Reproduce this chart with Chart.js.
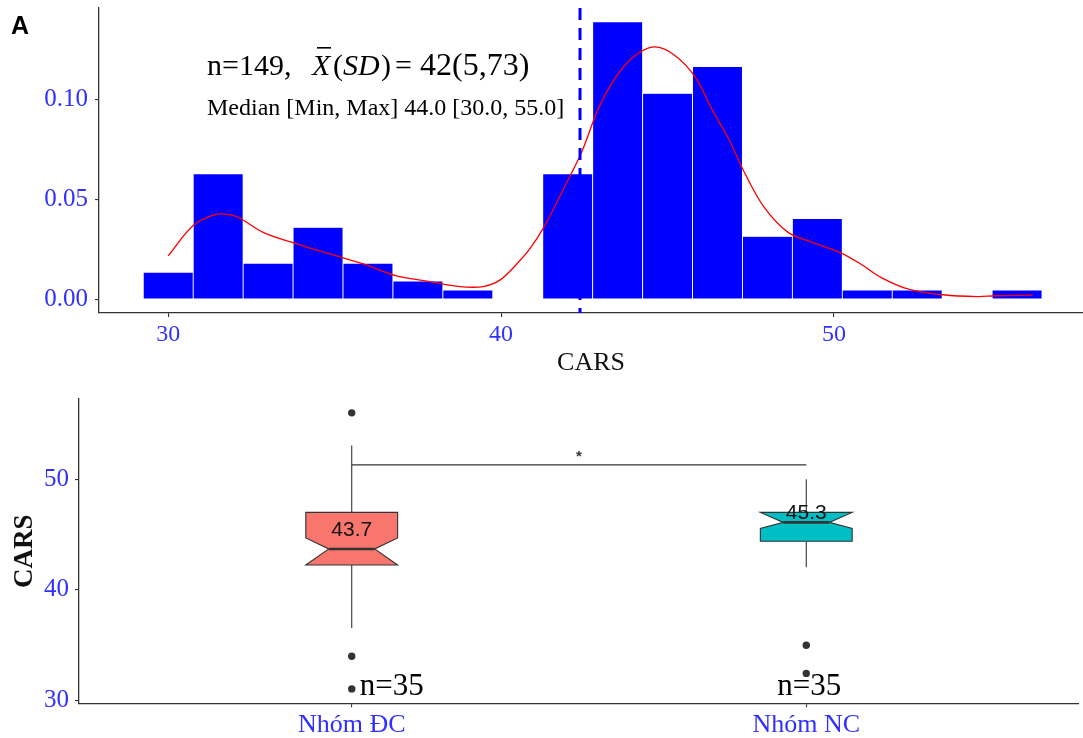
<!DOCTYPE html>
<html lang="en">
<head>
  <meta charset="UTF-8">
  <title>CARS histogram and boxplot</title>
  <script src="https://cdn.jsdelivr.net/npm/chart.js"></script>
  <style>
    body { margin: 0; background: #fff; }
    #wrap { position: relative; width: 1083px; height: 738px; }
    #histChart { position: absolute; left: 0; top: 0; }
    #boxChart { position: absolute; left: 0; top: 390px; }
  </style>
</head>
<body>
<div id="wrap">
  <canvas id="histChart" width="1083" height="390"></canvas>
  <canvas id="boxChart" width="1083" height="348"></canvas>
</div>

<script>
  // ---- panel A: histogram of CARS (bin width 1.5) + density curve ----
  const binCenters = [30, 31.5, 33, 34.5, 36, 37.5, 39, 40.5, 42, 43.5, 45, 46.5, 48, 49.5, 51, 52.5, 54, 55.5];
  const binDensity = [0.0134, 0.0626, 0.0179, 0.0358, 0.0179, 0.0089, 0.0045, 0, 0.0626, 0.1387,
                      0.1029, 0.1163, 0.0313, 0.0403, 0.0045, 0.0045, 0, 0.0045];
  const densityX = [30.0, 30.75, 31.4, 31.85, 32.15, 32.85, 33.86, 34.86, 35.86, 36.86, 37.86, 38.76, 39.46,
                    39.96, 40.47, 40.86, 41.28, 41.9, 42.42, 42.94, 43.45, 43.97, 44.59, 45.21, 45.83, 46.35,
                    46.86, 47.28, 47.9, 48.62, 49.35, 50.17, 50.8, 51.42, 52.24, 53.28, 54.31, 54.83, 55.97];
  const densityY = [0.0217, 0.0368, 0.0423, 0.0423, 0.0406, 0.0334, 0.0276, 0.0226, 0.0176, 0.0117, 0.0088, 0.0063, 0.0063,
                    0.0095, 0.0176, 0.0251, 0.0359, 0.056, 0.0736, 0.0961, 0.1112, 0.1212, 0.1262, 0.1221, 0.1112, 0.0945,
                    0.0794, 0.0644, 0.046, 0.0334, 0.0284, 0.0234, 0.0176, 0.0108, 0.005, 0.0022, 0.0013, 0.0017, 0.002];
  const meanCARS = 42.37;
  const histXTicks = [30, 40, 50];
  const histYTicks = [0, 0.05, 0.10];

  // ---- boxplot by group ----
  const groupNames = ['Nhóm ĐC', 'Nhóm NC'];
  const boxLower = [42.25, 44.4];
  const boxMiddle = [43.7, 46.1];
  const boxUpper = [47.0, 47.0];
  const notchLower = [42.25, 45.55];
  const notchUpper = [44.7, 47.0];
  const whiskerMin = [36.55, 42.05];
  const whiskerMax = [53.05, 50.0];
  const outliersDC = [56, 34, 31.05];
  const outliersNC = [35, 32.45];
  const groupLabel = [43.7, 45.3];
  const groupN = [35, 35];
  const boxYTicks = [30, 40, 50];
  const bracketY = 51.3;

  const boxFill = ['#F8766D', '#00BFC4'];
  const tickBlue = '#3030FF';
  const axisGrey = '#333333';
  const serif = '"Liberation Serif", "Times New Roman", serif';
  const sans = '"Liberation Sans", Arial, sans-serif';

  function axisStyle(extra) {
    return Object.assign({
      border: { display: true, color: axisGrey, width: 1.3 },
      grid: { display: true, offset: false, drawOnChartArea: false, drawTicks: true, tickLength: 4, color: axisGrey, lineWidth: 1.1 }
    }, extra);
  }

  // keep chart area exactly where the plot panel is
  function fixSize(prop, size) {
    return s => {
      s[prop] = size;
      s.paddingTop = 0; s.paddingBottom = 0; s.paddingLeft = 0; s.paddingRight = 0;
    };
  }

  // text, mean line and panel letter on top chart
  const histExtras = {
    id: 'histExtras',
    afterDatasetsDraw(chart) {
      const { ctx, chartArea, scales: { x } } = chart;
      const px = x.getPixelForValue(meanCARS);
      ctx.save();
      ctx.strokeStyle = '#0000FF';
      ctx.lineWidth = 3;
      ctx.setLineDash([12, 8]);
      ctx.beginPath();
      ctx.moveTo(px, chartArea.top);
      ctx.lineTo(px, chartArea.bottom);
      ctx.stroke();
      ctx.restore();
    },
    afterDraw(chart) {
      const ctx = chart.ctx;
      ctx.save();
      ctx.fillStyle = '#000';
      ctx.textBaseline = 'alphabetic';
      ctx.font = 'bold 25px ' + sans;
      ctx.fillText('A', 11, 34);

      ctx.font = '30px ' + serif;
      ctx.fillText('n=149,', 207, 75);
      ctx.font = 'italic 30px ' + serif;
      ctx.fillText('X', 312, 75);
      ctx.fillRect(317, 47, 14, 1.6);
      ctx.font = '30px ' + serif;
      ctx.fillText('(', 333, 75);
      ctx.font = 'italic 30px ' + serif;
      ctx.fillText('SD', 343, 75);
      ctx.font = '30px ' + serif;
      ctx.fillText(')', 381, 75);
      ctx.fillText('=', 395, 75);
      ctx.font = '32px ' + serif;
      ctx.fillText('42(5,73)', 420, 75);

      ctx.font = '24px ' + serif;
      ctx.fillText('Median [Min, Max] 44.0 [30.0, 55.0]', 207, 115);
      ctx.restore();
    }
  };

  new Chart(document.getElementById('histChart'), {
    type: 'bar',
    data: {
      datasets: [
        {
          type: 'line',
          data: densityX.map((v, i) => ({ x: v, y: densityY[i] })),
          borderColor: '#FF0000',
          borderWidth: 1.3,
          pointRadius: 0,
          tension: 0.35,
          fill: false,
          order: 0
        },
        {
          type: 'bar',
          data: binCenters.map((v, i) => ({ x: v, y: binDensity[i] })),
          backgroundColor: '#0000FF',
          borderColor: '#FFFFFF',
          borderWidth: { top: 0.6, left: 0.8, right: 0.8, bottom: 0 },
          borderSkipped: false,
          barPercentage: 1,
          categoryPercentage: 1,
          order: 1
        }
      ]
    },
    options: {
      responsive: false,
      animation: false,
      layout: { padding: { top: 8, left: 0, right: 0, bottom: 0 } },
      plugins: { legend: { display: false }, tooltip: { enabled: false } },
      scales: {
        x: axisStyle({
          type: 'linear',
          offset: false,
          min: 27.92,
          max: 57.48,
          afterBuildTicks: s => { s.ticks = histXTicks.map(v => ({ value: v })); },
          afterFit: fixSize('height', 77),
          ticks: { color: tickBlue, font: { family: serif, size: 24 }, padding: 3, maxRotation: 0, autoSkip: false },
          title: { display: true, text: 'CARS', color: '#111', font: { family: serif, size: 26 }, padding: { top: 11, bottom: 11 } }
        }),
        y: axisStyle({
          min: -0.00694,
          max: 0.1457,
          afterBuildTicks: s => { s.ticks = histYTicks.map(v => ({ value: v })); },
          afterFit: fixSize('width', 99),
          ticks: { color: tickBlue, font: { family: serif, size: 25 }, padding: 7, callback: v => v.toFixed(2) }
        })
      }
    },
    plugins: [histExtras]
  });

  // notched boxes, whiskers, labels and significance bracket
  const boxPlugin = {
    id: 'boxes',
    beforeDatasetsDraw(chart) {
      const { ctx, scales: { x, y } } = chart;
      const hw = 0.101;
      ctx.save();
      ctx.strokeStyle = axisGrey;
      groupNames.forEach((g, i) => {
        const cx = x.getPixelForValue(i);
        const xl = x.getPixelForValue(i - hw), xr = x.getPixelForValue(i + hw);
        const nl = x.getPixelForValue(i - hw / 2), nr = x.getPixelForValue(i + hw / 2);
        const yq1 = y.getPixelForValue(boxLower[i]), yq3 = y.getPixelForValue(boxUpper[i]);
        const ymd = y.getPixelForValue(boxMiddle[i]);
        const ynl = y.getPixelForValue(notchLower[i]), ynu = y.getPixelForValue(notchUpper[i]);

        ctx.lineWidth = 1.1;
        ctx.beginPath();
        ctx.moveTo(cx, yq3); ctx.lineTo(cx, y.getPixelForValue(whiskerMax[i]));
        ctx.moveTo(cx, yq1); ctx.lineTo(cx, y.getPixelForValue(whiskerMin[i]));
        ctx.stroke();

        ctx.beginPath();
        ctx.moveTo(xl, yq1);
        ctx.lineTo(xl, ynl);
        ctx.lineTo(nl, ymd);
        ctx.lineTo(xl, ynu);
        ctx.lineTo(xl, yq3);
        ctx.lineTo(xr, yq3);
        ctx.lineTo(xr, ynu);
        ctx.lineTo(nr, ymd);
        ctx.lineTo(xr, ynl);
        ctx.lineTo(xr, yq1);
        ctx.closePath();
        ctx.fillStyle = boxFill[i];
        ctx.fill();
        ctx.stroke();

        ctx.lineWidth = 2.6;
        ctx.beginPath();
        ctx.moveTo(nl, ymd); ctx.lineTo(nr, ymd);
        ctx.stroke();
      });
      ctx.restore();
    },
    afterDatasetsDraw(chart) {
      const { ctx, scales: { x, y } } = chart;
      ctx.save();
      // group value labels
      ctx.fillStyle = '#111';
      ctx.textAlign = 'center';
      ctx.textBaseline = 'middle';
      ctx.font = '21px ' + sans;
      groupLabel.forEach((v, i) => {
        ctx.fillText(v.toFixed(1), x.getPixelForValue(i), y.getPixelForValue(v + 1.65));
      });

      // significance bracket
      const by = y.getPixelForValue(bracketY);
      ctx.strokeStyle = axisGrey;
      ctx.lineWidth = 1.3;
      ctx.beginPath();
      ctx.moveTo(x.getPixelForValue(0), by);
      ctx.lineTo(x.getPixelForValue(1), by);
      ctx.stroke();
      ctx.fillStyle = axisGrey;
      ctx.font = 'bold 15px ' + sans;
      ctx.fillText('*', x.getPixelForValue(0.5), by - 8);

      // sample sizes
      ctx.fillStyle = '#000';
      ctx.font = '31px ' + serif;
      ctx.textAlign = 'left';
      ctx.fillText('n=' + groupN[0], x.getPixelForValue(0) + 8, y.getPixelForValue(31.2));
      ctx.textAlign = 'center';
      ctx.fillText('n=' + groupN[1], x.getPixelForValue(1) + 3, y.getPixelForValue(31.2));
      ctx.restore();
    }
  };

  const outlierPoints = outliersDC.map(v => ({ x: 0, y: v })).concat(outliersNC.map(v => ({ x: 1, y: v })));

  new Chart(document.getElementById('boxChart'), {
    type: 'scatter',
    data: {
      datasets: [{
        data: outlierPoints,
        backgroundColor: axisGrey,
        borderWidth: 0,
        pointRadius: 3.7
      }]
    },
    options: {
      responsive: false,
      animation: false,
      layout: { padding: { top: 9, left: 0, right: 0, bottom: 0 } },
      plugins: { legend: { display: false }, tooltip: { enabled: false } },
      scales: {
        x: axisStyle({
          type: 'linear',
          min: -0.6,
          max: 1.6,
          afterBuildTicks: s => { s.ticks = [0, 1].map(v => ({ value: v })); },
          afterFit: fixSize('height', 34.7),
          ticks: { color: tickBlue, font: { family: serif, size: 26 }, padding: 2, maxRotation: 0, autoSkip: false,
                   callback: v => groupNames[v] }
        }),
        y: axisStyle({
          min: 29.75,
          max: 57.25,
          afterBuildTicks: s => { s.ticks = boxYTicks.map(v => ({ value: v })); },
          afterFit: fixSize('width', 79),
          ticks: { color: tickBlue, font: { family: serif, size: 25 }, padding: 6 },
          title: { display: true, text: 'CARS', color: '#111', font: { family: serif, size: 27, weight: 'bold' }, padding: { top: 9, bottom: 0 } }
        })
      }
    },
    plugins: [boxPlugin]
  });
</script>
</body>
</html>
